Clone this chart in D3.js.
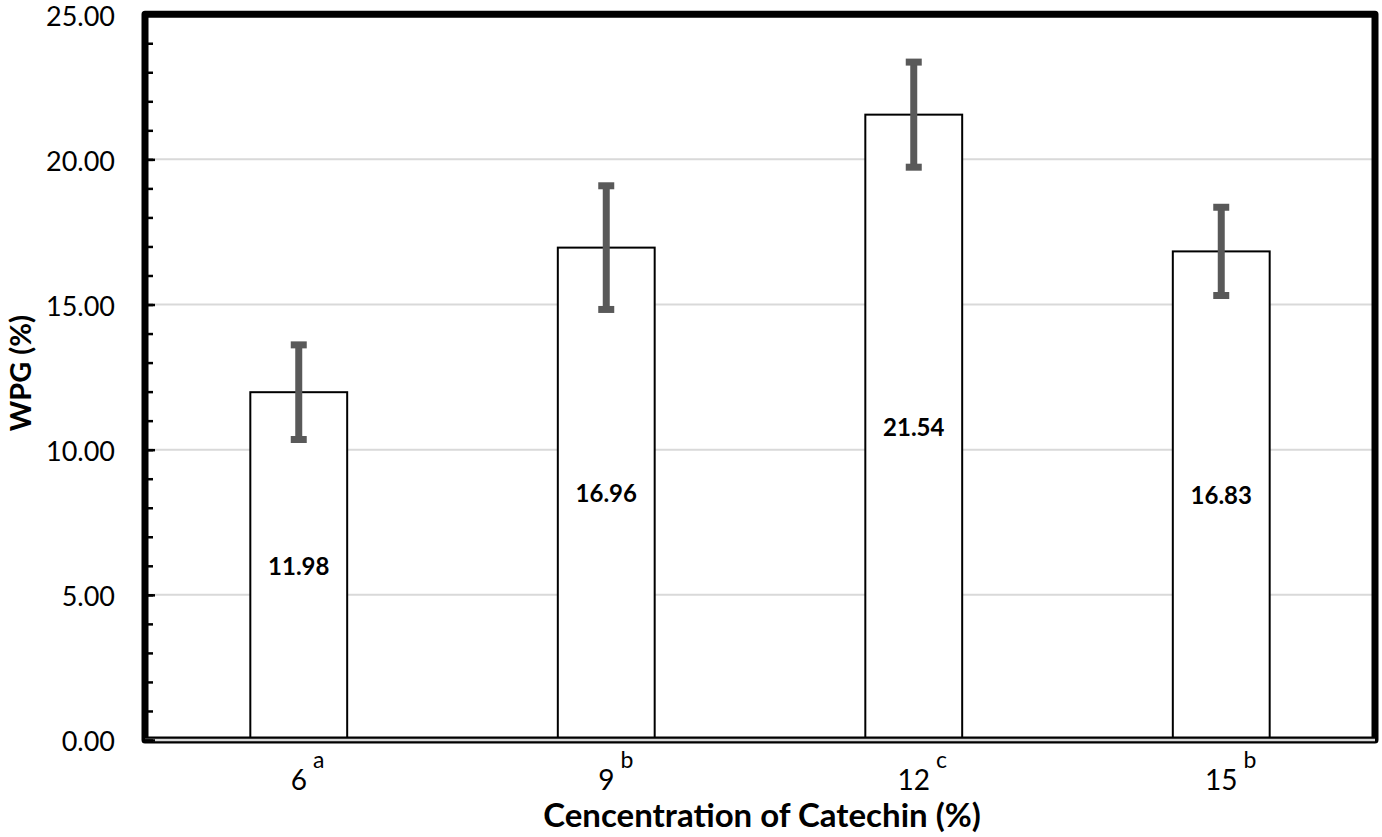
<!DOCTYPE html>
<html>
<head>
<meta charset="utf-8">
<script src="https://cdn.jsdelivr.net/npm/d3@7"></script>
<style>
  html, body { margin: 0; padding: 0; background: #fff; }
  svg { display: block; font-family: Lato, "Open Sans", sans-serif; }
</style>
</head>
<body>
<svg id="chart" width="1382" height="837"></svg>
<script>
// ---- data ----
const categories = ["6", "9", "12", "15"];
const letters = ["a", "b", "c", "b"];
const values = [11.98, 16.96, 21.54, 16.83];
const errors = [1.63, 2.13, 1.81, 1.52];
const yTickValues = [0, 5, 10, 15, 20, 25];
const yMinorValues = d3.range(0, 26, 1);
const xTitle = "Cencentration of Catechin (%)";
const yTitle = "WPG (%)";

// ---- layout ----
const L = 145, R = 1375, T = 14.2, B = 740;
const svg = d3.select("#chart");

const x = d3.scaleBand().domain(categories).range([L, R])
  .paddingInner(0.685).paddingOuter(0.685 / 2);
const y = d3.scaleLinear().domain([0, 25]).range([B, T]);

// gridlines
svg.append("g").selectAll("line").data(yTickValues.filter(v => v > 0 && v < 25)).join("line")
  .attr("x1", L).attr("x2", R)
  .attr("y1", d => y(d)).attr("y2", d => y(d))
  .attr("stroke", "#d9d9d9").attr("stroke-width", 2);

// bars
const data = categories.map((c, i) => ({ c, v: values[i], e: errors[i], l: letters[i] }));
svg.append("g").selectAll("rect").data(data).join("rect")
  .attr("x", d => x(d.c)).attr("width", x.bandwidth())
  .attr("y", d => y(d.v)).attr("height", d => y(0) - y(d.v))
  .attr("fill", "#fff").attr("stroke", "#000").attr("stroke-width", 2);

// value labels
svg.append("g").selectAll("text").data(data).join("text")
  .attr("x", d => x(d.c) + x.bandwidth() / 2)
  .attr("y", d => (y(d.v) + y(0)) / 2)
  .attr("dy", "0.36em")
  .attr("text-anchor", "middle")
  .attr("font-weight", "bold").attr("font-size", 24)
  .attr("fill", "#000")
  .text(d => d.v.toFixed(2));

// error bars
const eb = svg.append("g").attr("stroke", "#595959").attr("stroke-width", 7);
const cx = d => x(d.c) + x.bandwidth() / 2;
eb.selectAll("line.stem").data(data).join("line").attr("class", "stem")
  .attr("x1", cx).attr("x2", cx)
  .attr("y1", d => y(d.v + d.e)).attr("y2", d => y(d.v - d.e));
eb.selectAll("line.capT").data(data).join("line").attr("class", "capT")
  .attr("x1", d => cx(d) - 8).attr("x2", d => cx(d) + 8)
  .attr("y1", d => y(d.v + d.e)).attr("y2", d => y(d.v + d.e));
eb.selectAll("line.capB").data(data).join("line").attr("class", "capB")
  .attr("x1", d => cx(d) - 8).attr("x2", d => cx(d) + 8)
  .attr("y1", d => y(d.v - d.e)).attr("y2", d => y(d.v - d.e));

// frame
svg.append("rect")
  .attr("x", L).attr("y", T).attr("width", R - L).attr("height", B - T)
  .attr("fill", "none").attr("stroke", "#000").attr("stroke-width", 7)
  .attr("stroke-linejoin", "round");
// category axis line at 0 (gray inside the frame's bottom edge)
svg.append("line").attr("x1", L).attr("x2", R).attr("y1", y(0)).attr("y2", y(0))
  .attr("stroke", "#d9d9d9").attr("stroke-width", 2.5);

// y axis minor ticks
const minorAxis = d3.axisLeft(y).tickValues(yMinorValues).tickSize(-8).tickFormat("");
svg.append("g").attr("transform", `translate(${L},0)`).call(minorAxis)
  .call(g => g.select(".domain").remove())
  .call(g => g.selectAll(".tick line").attr("stroke", "#000").attr("stroke-width", 2.5));

// y axis major ticks + labels
const yAxis = d3.axisLeft(y).tickValues(yTickValues).tickSize(-10).tickPadding(30)
  .tickFormat(d => d.toFixed(2));
svg.append("g").attr("transform", `translate(${L},0)`).call(yAxis)
  .call(g => g.select(".domain").remove())
  .call(g => g.selectAll(".tick line").attr("stroke", "#000").attr("stroke-width", 2.5))
  .call(g => g.selectAll(".tick text").attr("font-size", 27).attr("font-family", "Lato")
    .attr("fill", "#000").attr("dy", "0.4em"));

// x axis labels with superscripts
const xAxis = d3.axisBottom(x).tickSize(0).tickPadding(0);
const xg = svg.append("g").attr("transform", `translate(0,${B})`).call(xAxis);
xg.select(".domain").remove();
xg.selectAll(".tick text").remove();
xg.selectAll(".tick").each(function(c) {
  const i = categories.indexOf(c);
  const g = d3.select(this);
  const t = g.append("text").attr("x", 0).attr("y", 50)
    .attr("text-anchor", "middle").attr("font-size", 28)
    .attr("font-family", "Lato").attr("fill", "#000").text(c);
  const w = t.node().getComputedTextLength();
  g.append("text").attr("x", w / 2 + 6).attr("y", 28)
    .attr("text-anchor", "start").attr("font-size", 23)
    .attr("font-family", "Lato").attr("fill", "#000").text(letters[i]);
});

// axis titles
svg.append("text")
  .attr("x", (L + R) / 2 + 2).attr("y", 827)
  .attr("text-anchor", "middle").attr("font-weight", "bold").attr("font-size", 33)
  .attr("fill", "#000").text(xTitle);
svg.append("text")
  .attr("transform", `translate(31,${(T + B) / 2 - 4}) rotate(-90)`)
  .attr("text-anchor", "middle").attr("font-weight", "bold").attr("font-size", 29)
  .attr("fill", "#000").text(yTitle);
</script>
</body>
</html>
